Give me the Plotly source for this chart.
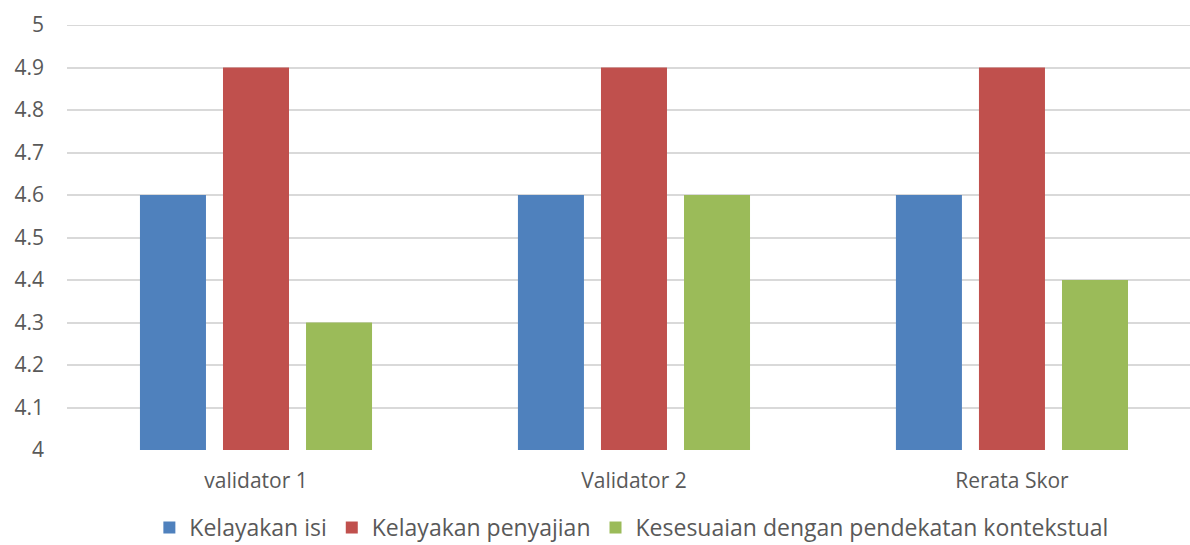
import plotly.graph_objects as go

categories = ["validator 1", "Validator 2", "Rerata Skor"]
series_names = ["Kelayakan isi", "Kelayakan penyajian", "Kesesuaian dengan pendekatan kontekstual"]
kelayakan_isi = [4.6, 4.6, 4.6]
kelayakan_penyajian = [4.9, 4.9, 4.9]
kesesuaian = [4.3, 4.6, 4.4]
y_ticks = [4, 4.1, 4.2, 4.3, 4.4, 4.5, 4.6, 4.7, 4.8, 4.9, 5]
y_tick_labels = ["4", "4.1", "4.2", "4.3", "4.4", "4.5", "4.6", "4.7", "4.8", "4.9", "5"]

colors = ["#4F81BD", "#C0504D", "#9BBB59"]
values = [kelayakan_isi, kelayakan_penyajian, kesesuaian]

fig = go.Figure()
for name, vals, col in zip(series_names, values, colors):
    fig.add_trace(go.Bar(
        x=categories, y=[v - 4 for v in vals], base=4, name=name,
        marker=dict(color=col, line=dict(width=0)),
    ))

font_family = "'Open Sans', Lato, sans-serif"
fig.update_layout(
    width=1190, height=545,
    margin=dict(l=67, r=0, t=25, b=95, autoexpand=False),
    paper_bgcolor="white", plot_bgcolor="white",
    barmode="group", bargap=0.341, bargroupgap=0.205,
    font=dict(family=font_family, size=21, color="#595959"),
    xaxis=dict(
        type="category", range=[-0.5, 2.471], showgrid=False, zeroline=False,
        showline=False, ticks="", tickfont=dict(size=21, color="#595959"),
        ticklabelstandoff=16, automargin=False,
    ),
    yaxis=dict(
        range=[4, 5], tickvals=y_ticks, ticktext=y_tick_labels,
        showgrid=True, gridcolor="#D9D9D9", gridwidth=2, zeroline=False,
        showline=False, ticks="", tickfont=dict(size=21, color="#595959"),
        ticklabelstandoff=22, automargin=False,
    ),
    shapes=[dict(type="line", xref="paper", yref="y", x0=0, x1=1, y0=5, y1=5,
                 line=dict(color="#D9D9D9", width=2), layer="below")],
    legend=dict(
        orientation="h", x=0.503, xanchor="center",
        yref="container", y=0.032, yanchor="middle",
        font=dict(size=23, color="#595959"), itemsizing="constant",
        traceorder="normal",
    ),
)

fig.write_html(
    "out.html",
    config={"displayModeBar": False},
    post_script="document.body.style.margin='0';document.body.style.overflow='hidden';",
)
